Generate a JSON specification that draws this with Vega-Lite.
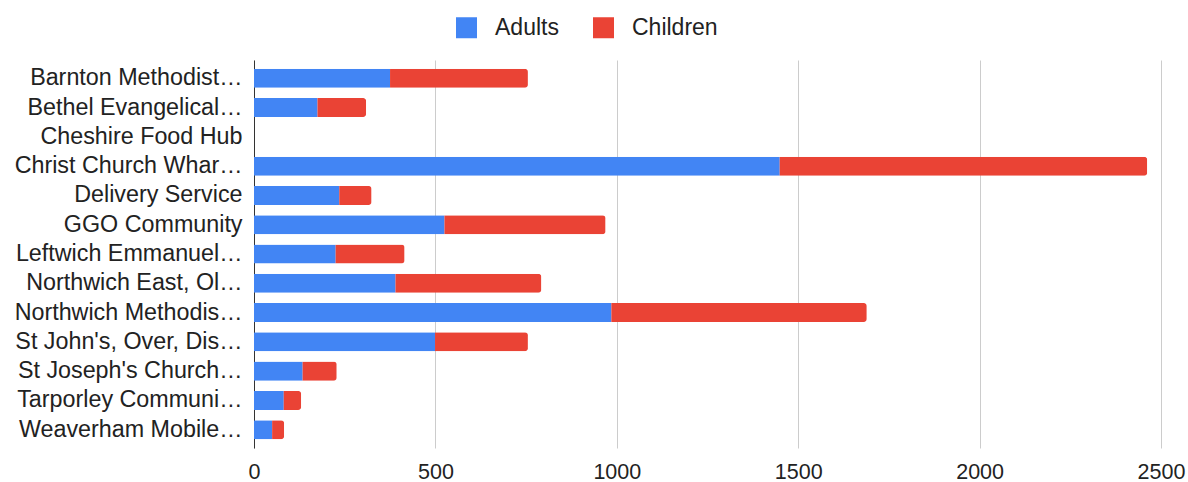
{
  "$schema": "https://vega.github.io/schema/vega-lite/v6.json",
  "width": 907,
  "height": 388,
  "autosize": "none",
  "padding": {"left": 254, "top": 60, "right": 27, "bottom": 34},
  "background": "white",
  "config": {"view": {"stroke": null}, "font": "Liberation Sans"},
  "data": {
    "values": [
      {"site": "Barnton Methodist…", "group": "Adults", "count": 375},
      {"site": "Barnton Methodist…", "group": "Children", "count": 380},
      {"site": "Bethel Evangelical…", "group": "Adults", "count": 175},
      {"site": "Bethel Evangelical…", "group": "Children", "count": 134},
      {"site": "Cheshire Food Hub", "group": "Adults", "count": 0},
      {"site": "Cheshire Food Hub", "group": "Children", "count": 0},
      {"site": "Christ Church Whar…", "group": "Adults", "count": 1449},
      {"site": "Christ Church Whar…", "group": "Children", "count": 1013},
      {"site": "Delivery Service", "group": "Adults", "count": 235},
      {"site": "Delivery Service", "group": "Children", "count": 89},
      {"site": "GGO Community", "group": "Adults", "count": 525},
      {"site": "GGO Community", "group": "Children", "count": 444},
      {"site": "Leftwich Emmanuel…", "group": "Adults", "count": 225},
      {"site": "Leftwich Emmanuel…", "group": "Children", "count": 190},
      {"site": "Northwich East, Ol…", "group": "Adults", "count": 390},
      {"site": "Northwich East, Ol…", "group": "Children", "count": 402},
      {"site": "Northwich Methodis…", "group": "Adults", "count": 985},
      {"site": "Northwich Methodis…", "group": "Children", "count": 704},
      {"site": "St John's, Over, Dis…", "group": "Adults", "count": 499},
      {"site": "St John's, Over, Dis…", "group": "Children", "count": 256},
      {"site": "St Joseph's Church…", "group": "Adults", "count": 134},
      {"site": "St Joseph's Church…", "group": "Children", "count": 94},
      {"site": "Tarporley Communi…", "group": "Adults", "count": 82},
      {"site": "Tarporley Communi…", "group": "Children", "count": 48},
      {"site": "Weaverham Mobile…", "group": "Adults", "count": 50},
      {"site": "Weaverham Mobile…", "group": "Children", "count": 33}
    ]
  },
  "mark": {"type": "bar", "cornerRadiusEnd": 3},
  "encoding": {
    "y": {
      "field": "site",
      "type": "nominal",
      "sort": null,
      "scale": {"paddingInner": 0.35, "paddingOuter": 0.3},
      "axis": {
        "title": null,
        "domain": true,
        "domainColor": "#333333",
        "domainWidth": 1,
        "ticks": false,
        "grid": false,
        "labelFont": "Liberation Sans",
        "labelFontSize": 23.3,
        "labelColor": "#222222",
        "labelPadding": 12,
        "labelLimit": 400
      }
    },
    "x": {
      "field": "count",
      "type": "quantitative",
      "stack": "zero",
      "scale": {"domain": [0, 2500], "nice": false},
      "axis": {
        "title": null,
        "domain": false,
        "ticks": false,
        "grid": true,
        "gridColor": "#cccccc",
        "values": [0, 500, 1000, 1500, 2000, 2500],
        "format": "d",
        "labelFlush": false,
        "labelFont": "Liberation Sans",
        "labelFontSize": 21.5,
        "labelColor": "#222222",
        "labelPadding": 13
      }
    },
    "color": {
      "field": "group",
      "type": "nominal",
      "scale": {"domain": ["Adults", "Children"], "range": ["#4285F4", "#EA4335"]},
      "legend": {
        "orient": "none",
        "legendX": 201,
        "legendY": -44,
        "direction": "horizontal",
        "title": null,
        "padding": 0,
        "symbolType": "square",
        "symbolSize": 441,
        "symbolStrokeWidth": 0,
        "labelFont": "Liberation Sans",
        "labelFontSize": 23,
        "labelColor": "#222222",
        "labelOffset": 17,
        "columnPadding": 33
      }
    }
  }
}
